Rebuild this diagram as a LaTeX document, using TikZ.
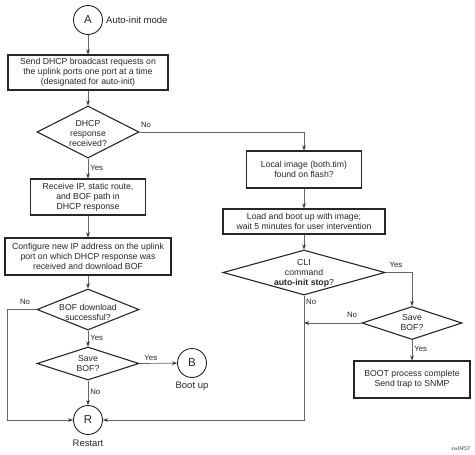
\documentclass[tikz,border=0pt]{standalone}
\usepackage{fontspec}
\setmainfont{Liberation Sans}
\newfontfamily\serifit{Liberation Serif}
\usetikzlibrary{shapes.geometric,arrows.meta}
\begin{document}
\begin{tikzpicture}[x=1pt,y=-1pt,
 box/.style={draw=black!85,line width=1.1pt,inner sep=0pt,align=center,font=\fontsize{8.7}{10}\selectfont,text=black!85},
 dia/.style={diamond,draw=black!85,line width=1.1pt,inner sep=0pt},
 txt/.style={align=center,inner sep=0pt,font=\fontsize{8.7}{10}\selectfont,text=black!85},
 circ/.style={circle,draw=black!85,line width=0.9pt,minimum size=29pt,inner sep=0pt,font=\fontsize{11.5}{12}\selectfont,text=black!85},
 big/.style={inner sep=0pt,font=\fontsize{9.5}{11}\selectfont,text=black!85},
 conn/.style={draw=black!60,line width=0.7pt},
 arr/.style={conn,-{Stealth[length=5pt,width=3.6pt,black!80]}},
 lab/.style={font=\fontsize{7.8}{9}\selectfont,text=black!85,inner sep=0pt},
]
\useasboundingbox (0,0) rectangle (475,455);
% left column
\node[circ] (A) at (88,20) {A};
\node[big,anchor=west] (Atxt) at (106,20) {Auto-init mode};
\node[box,minimum width=160pt,minimum height=35pt] (b1) at (88,72.5)
  {Send DHCP broadcast requests on\\the uplink ports one port at a time\\(designated for auto-init)};
\node[dia,minimum width=102pt,minimum height=52pt] (d1) at (88,132) {};
\node[txt] (d1t) at (88,134) {DHCP\\response\\received?};
\node[box,minimum width=115pt,minimum height=36pt] (b2) at (88,197)
  {Receive IP, static route,\\and BOF path in\\DHCP response};
\node[box,minimum width=166pt,minimum height=37pt] (b3) at (88,256.5)
  {Configure new IP address on the uplink\\port on which DHCP response was\\received and download BOF};
\node[dia,minimum width=102pt,minimum height=41pt] (d2) at (88,309.5) {};
\node[txt] (d2t) at (88,312) {BOF download\\successful?};
\node[dia,minimum width=102pt,minimum height=33pt] (d3) at (88,363.5) {};
\node[txt] (d3t) at (88,363.5) {Save\\BOF?};
\node[circ] (R) at (88,420) {R};
\node[big] (Rtxt) at (88,443) {Restart};
\node[circ] (B) at (192,363) {B};
\node[big] (Btxt) at (192,386) {Boot up};
% right column
\node[box,minimum width=115pt,minimum height=37pt] (b4) at (304,169.5)
  {Local image (both.tim)\\found on flash?};
\node[box,minimum width=162pt,minimum height=25pt] (b5) at (304,221.5)
  {Load and boot up with image;\\wait 5 minutes for user intervention};
\node[dia,minimum width=162pt,minimum height=45pt] (d4) at (304,272.5) {};
\node[txt] (d4t) at (304,273) {CLI\\command\\\textbf{auto-init stop}?};
\node[dia,minimum width=100pt,minimum height=33pt] (d5) at (412,323) {};
\node[txt] (d5t) at (412,323) {Save\\BOF?};
\node[box,minimum width=116pt,minimum height=37pt] (b6) at (412,379.5)
  {BOOT process complete\\Send trap to SNMP};
\node[anchor=east,inner sep=0pt,font=\serifit\itshape\fontsize{6}{7}\selectfont,text=black!80] (sw) at (470,449) {sw0453};
% connectors
\draw[arr] (A) -- (b1);
\draw[arr] (b1) -- (d1.north);
\draw[arr] (d1.south) -- (b2) node[lab,pos=0.45,anchor=west,xshift=2pt] {Yes};
\draw[arr] (b2) -- (b3);
\draw[arr] (b3) -- (d2.north);
\draw[arr] (d2.south) -- (d3.north) node[lab,pos=0.45,anchor=west,xshift=2pt] {Yes};
\draw[arr] (d3.south) -- (R) node[lab,pos=0.45,anchor=west,xshift=2pt] {No};
\draw[arr] (d3.east) -- (B) node[lab,pos=0.3,anchor=south,yshift=2pt] {Yes};
\coordinate (lft) at (7,309.5);
\draw[arr] (d2.west) -- (lft) |- (R.west);
\node[lab] (no2) at (25,302) {No};
\draw[arr] (d1.east) -| (b4.north);
\node[lab] (no1) at (146,125) {No};
\draw[arr] (b4) -- (b5);
\draw[arr] (b5) -- (d4.north);
\draw[arr] (d4.east) -| (d5.north);
\node[lab] (yes4) at (396,265) {Yes};
\draw[arr] (d5.south) -- (b6) node[lab,pos=0.45,anchor=west,xshift=2pt] {Yes};
\coordinate (jn) at (d4.south |- d5.west);
\draw[arr] (d5.west) -- (jn);
\node[lab] (no5) at (352,315) {No};
\coordinate (bot) at (d4.south |- R.east);
\draw[arr] (d4.south) -- (bot) -- (R.east);
\node[lab,anchor=west] (no4) at (306,302) {No};
\end{tikzpicture}
\end{document}
